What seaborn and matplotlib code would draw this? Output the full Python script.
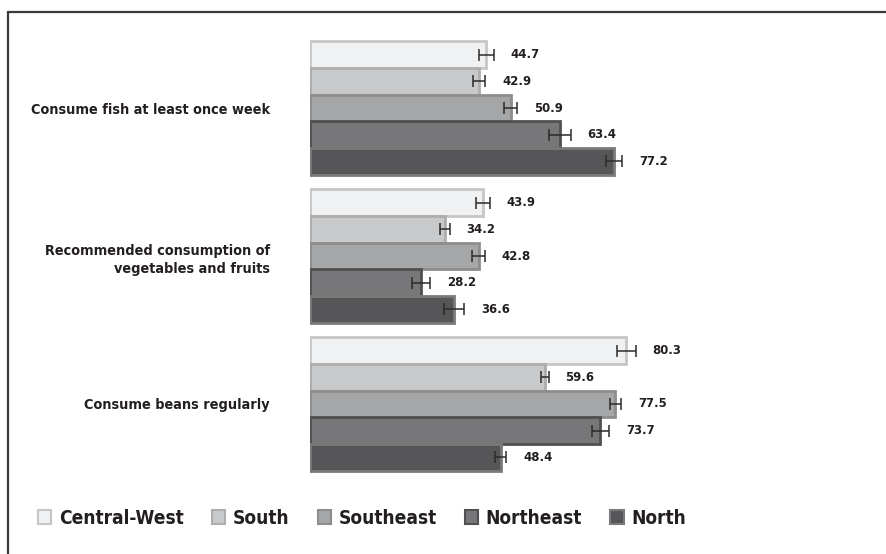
import matplotlib
matplotlib.use("Agg")
import matplotlib.pyplot as plt
from matplotlib import font_manager as fm
from matplotlib.lines import Line2D
import seaborn as sns
import pandas as pd

indicators = [
    "Consume fish at least once week",
    "Recommended consumption of\nvegetables and fruits",
    "Consume beans regularly",
]
regions = ["Central-West", "South", "Southeast", "Northeast", "North"]

# percentages per indicator, one list per region
central_west = [44.7, 43.9, 80.3]
south = [42.9, 34.2, 59.6]
southeast = [50.9, 42.8, 77.5]
northeast = [63.4, 28.2, 73.7]
north = [77.2, 36.6, 48.4]

# half-width of the confidence interval drawn on each bar
err_central_west = [1.9, 1.8, 2.3]
err_south = [1.6, 1.3, 1.0]
err_southeast = [1.6, 1.6, 1.5]
err_northeast = [2.8, 2.3, 2.2]
err_north = [2.0, 2.5, 1.4]

values = [central_west, south, southeast, northeast, north]
errors = [err_central_west, err_south, err_southeast, err_northeast, err_north]

face_colors = ["#f0f1f3", "#c8c9cb", "#a5a6a8", "#76777b", "#55565a"]
edge_colors = ["#c6c6c6", "#adadad", "#8d8d8d", "#505050", "#7a7a7a"]
text_color = "#231f20"

rows = []
for reg, vals, errs in zip(regions, values, errors):
    for ind, v, e in zip(indicators, vals, errs):
        rows.append({"indicator": ind, "region": reg, "value": v, "err": e})
df = pd.DataFrame(rows)


def _weight(e):
    w = e.weight
    if isinstance(w, str):
        return {"bold": 700, "heavy": 800, "black": 900, "semibold": 600,
                "demibold": 600, "normal": 400, "regular": 400}.get(w.lower(), 400)
    return w


def narrow_bold_font():
    """Pick a bold narrow/condensed face if one is installed, else a plain bold sans."""
    best = None
    for e in fm.fontManager.ttflist:
        tag = (e.name + " " + e.fname).lower()
        narrow = (e.stretch in ("condensed", "semi-condensed", "extra-condensed")
                  or "narrow" in tag or "condensed" in tag)
        if not narrow or e.style != "normal":
            continue
        score = -abs(_weight(e) - 700)
        if best is None or score > best[0]:
            best = (score, e.fname)
    if best is not None:
        return fm.FontProperties(fname=best[1])
    return fm.FontProperties(family="Liberation Sans", weight="bold")


sns.set_theme(style="white")
plt.rcParams["font.family"] = ["Liberation Sans", "DejaVu Sans"]

fig = plt.figure(figsize=(8.86, 5.54), dpi=100)
renderer = fig.canvas.get_renderer()
base_font = narrow_bold_font()


def sized(sample, width_px, max_pt):
    """Font size at which `sample` spans `width_px` pixels, capped at max_pt."""
    fp = base_font.copy()
    fp.set_size(10)
    w, _, _ = renderer.get_text_width_height_descent(sample, fp, ismath=False)
    fp.set_size(min(max_pt, 10 * width_px / w))
    return fp


cat_font = sized("Consume fish at least once week", 238, 14)
val_font = sized("44.7", 29, 11)
leg_font = sized("Central-West", 124, 17)

ax = fig.add_axes([0.35, 0.1372, 0.4447, 0.8014])

sns.barplot(
    data=df, y="indicator", x="value", hue="region", orient="h",
    order=indicators, hue_order=regions, palette=face_colors,
    width=0.9, errorbar=None, ax=ax, legend=False,
)

for cont, ec, reg in zip(ax.containers, edge_colors, regions):
    sub = df[df["region"] == reg].set_index("indicator").loc[indicators]
    for patch, (_, r) in zip(cont.patches, sub.iterrows()):
        patch.set_edgecolor(ec)
        patch.set_linewidth(2.0)
        yc = patch.get_y() + patch.get_height() / 2
        w = patch.get_width()
        ax.errorbar(w, yc, xerr=r["err"], fmt="none", ecolor="#2b2b2b",
                    elinewidth=1.1, capsize=4.5, capthick=1.1, zorder=5)
        ax.annotate(f"{r['value']:.1f}", xy=(w + r["err"], yc),
                    xytext=(12, 0), textcoords="offset points",
                    ha="left", va="center", fontproperties=val_font,
                    color=text_color, annotation_clip=False)

ax.set_xlim(0, 100)
ax.set_ylim(2.5, -0.5)
ax.set_xlabel("")
ax.set_ylabel("")
ax.set_xticks([])
for s in ax.spines.values():
    s.set_visible(False)
ax.tick_params(axis="y", length=0, pad=29)
for lab in ax.get_yticklabels():
    lab.set_fontproperties(cat_font)
    lab.set_color(text_color)
    lab.set_linespacing(1.45)

handles = [
    plt.Rectangle((0, 0), 1, 1, facecolor=fc, edgecolor=ec, linewidth=1.5)
    for fc, ec in zip(face_colors, edge_colors)
]
# legend row stretched between x=38px and x=686px, centred near y=518px
fig.legend(handles, regions, loc="center", mode="expand",
           bbox_to_anchor=(38 / 886, 1 - 530 / 554, 648 / 886, 24 / 554),
           ncol=5, frameon=False, borderpad=0, borderaxespad=0,
           handlelength=0.7, handleheight=0.7, handletextpad=0.4,
           prop=leg_font, labelcolor=text_color)

# frame lines along the top and left edges
fig.add_artist(Line2D([7.5 / 886, 1], [1 - 11.5 / 554] * 2, transform=fig.transFigure,
                      color="#3a3a3a", linewidth=1.6))
fig.add_artist(Line2D([7.5 / 886] * 2, [0, 1 - 11.5 / 554], transform=fig.transFigure,
                      color="#3a3a3a", linewidth=1.6))

fig.savefig("out.png", dpi=100, facecolor="white")
